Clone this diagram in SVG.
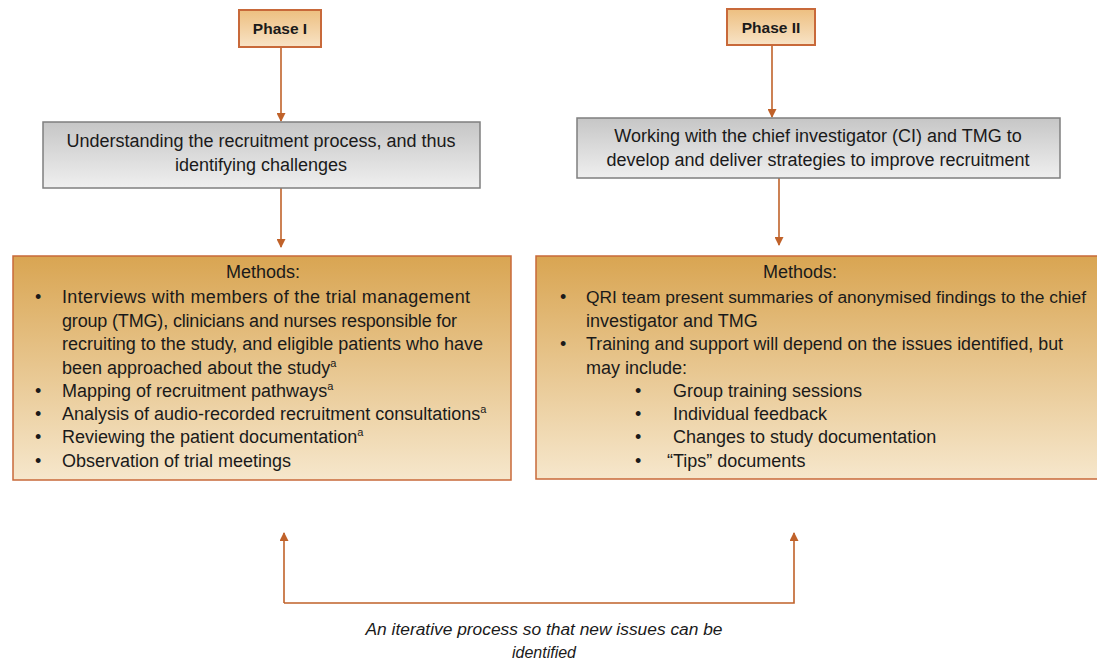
<svg xmlns="http://www.w3.org/2000/svg" width="1097" height="661" viewBox="0 0 1097 661">
<defs>
<linearGradient id="gPhase" x1="0" y1="0" x2="0" y2="1"><stop offset="0" stop-color="#EDBF80"/><stop offset="1" stop-color="#F8E3C6"/></linearGradient>
<linearGradient id="gGray" x1="0" y1="0" x2="0" y2="1"><stop offset="0" stop-color="#C6C6C6"/><stop offset="1" stop-color="#EFEFEF"/></linearGradient>
<linearGradient id="gMeth" x1="0" y1="0" x2="0" y2="1"><stop offset="0" stop-color="#D9A552"/><stop offset="1" stop-color="#F6E7CC"/></linearGradient>
<marker id="ah" viewBox="0 0 10 10" refX="9" refY="5" markerWidth="10" markerHeight="9" markerUnits="userSpaceOnUse" orient="auto"><path d="M0,0 L10,5 L0,10 z" fill="#C0622A"/></marker>
</defs>
<style>
.phase{fill:url(#gPhase);stroke:#C8693A;stroke-width:2}
.gray{fill:url(#gGray);stroke:#7F7F7F;stroke-width:1.5}
.meth{fill:url(#gMeth);stroke:#C8693A;stroke-width:1.5}
.t{font-family:"Liberation Sans",Arial,sans-serif;fill:#1a1a1a}
.pt{font-size:15.5px;font-weight:bold}
.gt{font-size:18px;text-anchor:middle}
.mt{font-size:18px}
.c{text-anchor:middle}
.sup{font-size:11px}
.conn{stroke:#C0622A;stroke-width:1.6;fill:none}
.it{font-family:"Liberation Sans",Arial,sans-serif;font-style:italic;font-size:16px;fill:#1a1a1a;text-anchor:middle}
</style>
<g id="connectors">
<line class="conn" x1="281" y1="47" x2="281" y2="121" marker-end="url(#ah)"/>
<line class="conn" x1="772" y1="45" x2="772" y2="117" marker-end="url(#ah)"/>
<line class="conn" x1="281" y1="188" x2="281" y2="247" marker-end="url(#ah)"/>
<line class="conn" x1="779" y1="178" x2="779" y2="245" marker-end="url(#ah)"/>
<polyline class="conn" points="284,603 284,533" marker-end="url(#ah)"/>
<polyline class="conn" points="284,603 794,603 794,533" marker-end="url(#ah)"/>
</g>
<g id="phase1">
<rect class="phase" x="239" y="10" width="82" height="37"/>
<text class="t pt c" x="280" y="34">Phase I</text>
</g>
<g id="phase2">
<rect class="phase" x="727" y="9" width="88" height="36"/>
<text class="t pt c" x="771" y="33">Phase II</text>
</g>
<g id="understanding">
<rect class="gray" x="43" y="122" width="437" height="66"/>
<text class="t gt" x="261" y="147">Understanding the recruitment process, and thus</text>
<text class="t gt" x="261" y="171">identifying challenges</text>
</g>
<g id="working">
<rect class="gray" x="577" y="118" width="483" height="60"/>
<text class="t gt" x="818" y="142">Working with the chief investigator (CI) and TMG to</text>
<text class="t gt" x="818" y="166">develop and deliver strategies to improve recruitment</text>
</g>
<g id="methods1">
<rect class="meth" x="13" y="256" width="498" height="224"/>
<text class="t mt c" x="263" y="278">Methods:</text>
<g class="t mt">
<text x="35" y="303">•</text><text x="62" y="303" textLength="408" lengthAdjust="spacing">Interviews  with members of the trial management</text>
<text x="62" y="327" textLength="395" lengthAdjust="spacing">group (TMG), clinicians and nurses responsible for</text>
<text x="62" y="350" textLength="421" lengthAdjust="spacing">recruiting to the study, and eligible patients who have</text>
<text x="62" y="374">been approached about the study<tspan class="sup" dy="-7">a</tspan></text>
<text x="35" y="397">•</text><text x="62" y="397">Mapping of recruitment pathways<tspan class="sup" dy="-7">a</tspan></text>
<text x="35" y="420">•</text><text x="62" y="420">Analysis of audio-recorded recruitment consultations<tspan class="sup" dy="-7">a</tspan></text>
<text x="35" y="443">•</text><text x="62" y="443">Reviewing the patient documentation<tspan class="sup" dy="-7">a</tspan></text>
<text x="35" y="467">•</text><text x="62" y="467">Observation of trial meetings</text>
</g>
</g>
<g id="methods2">
<rect class="meth" x="536" y="256" width="570" height="223"/>
<text class="t mt c" x="800" y="278">Methods:</text>
<g class="t mt">
<text x="560" y="303">•</text><text x="586" y="303" font-size="17.3" textLength="500" lengthAdjust="spacingAndGlyphs">QRI team present summaries of anonymised findings to the chief</text>
<text x="586" y="327">investigator and TMG</text>
<text x="560" y="350">•</text><text x="586" y="350" textLength="477" lengthAdjust="spacingAndGlyphs">Training and support will depend on the issues identified, but</text>
<text x="586" y="374">may include:</text>
<text x="635" y="397">•</text><text x="673" y="397">Group training sessions</text>
<text x="635" y="420">•</text><text x="673" y="420">Individual feedback</text>
<text x="635" y="443">•</text><text x="673" y="443">Changes to study documentation</text>
<text x="635" y="467">•</text><text x="667" y="467">“Tips”  documents</text>
</g>
</g>
<g id="caption">
<text class="it" x="544" y="635" textLength="357" lengthAdjust="spacingAndGlyphs">An iterative process so that new issues can be</text>
<text class="it" x="544" y="658">identified</text>
</g>
</svg>
